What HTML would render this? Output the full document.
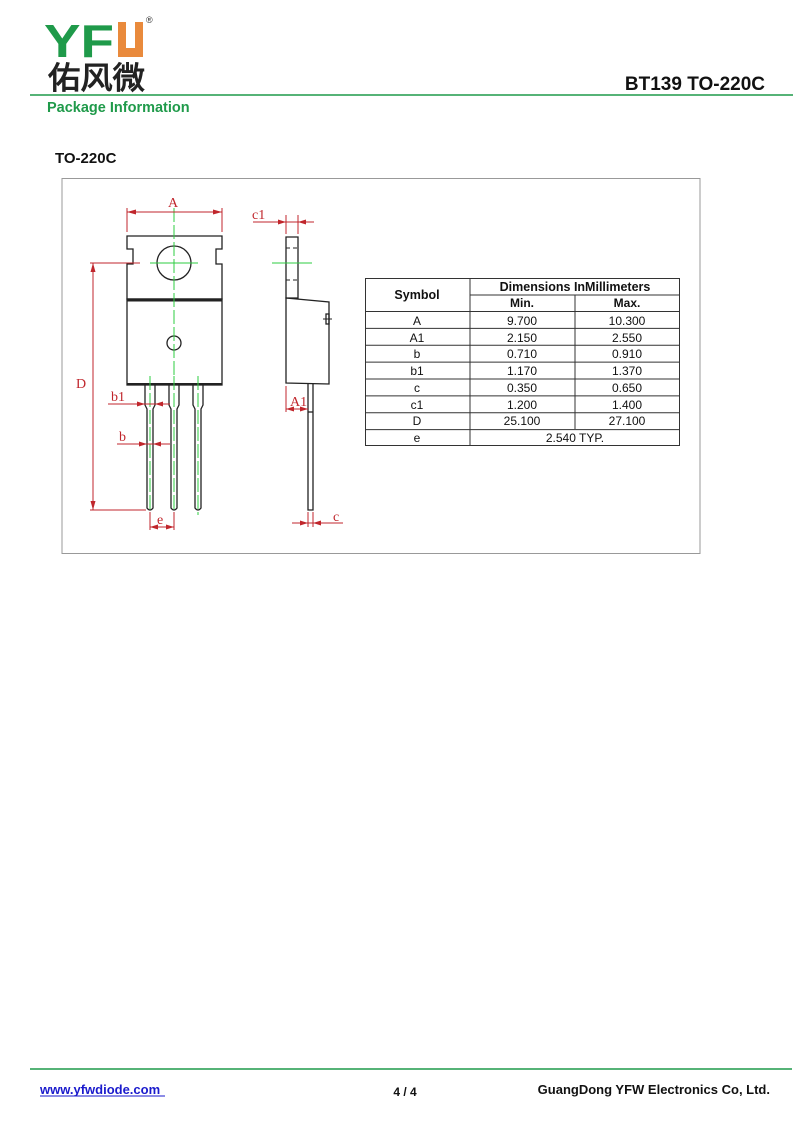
<!DOCTYPE html>
<html><head><meta charset="utf-8"><style>
html,body{margin:0;padding:0;background:#fff;width:800px;height:1130px;overflow:hidden}
svg{display:block}
text{font-family:"Liberation Sans",Arial,sans-serif}
.s{font-family:"Liberation Serif",serif;fill:#c0262c;font-size:14px}
</style></head><body>
<svg width="800" height="1130" viewBox="0 0 800 1130" xmlns="http://www.w3.org/2000/svg">
<!-- header -->
<text x="44" y="57" font-size="46" font-weight="bold" fill="#1f9a4a" textLength="70" lengthAdjust="spacingAndGlyphs">YF</text>
<path d="M118 22 h8 v26 h9 v-26 h8 v35 h-25 z" fill="#e98a3c"/>
<text x="146" y="23" font-size="9" fill="#333">®</text>
<text x="48" y="89" font-size="31" font-weight="bold" fill="#222" font-family="'Noto Sans CJK SC',sans-serif" textLength="97" lengthAdjust="spacingAndGlyphs">佑风微</text>
<line x1="30" y1="95" x2="793" y2="95" stroke="#1f9a4a" stroke-width="1.5"/>
<text x="47" y="112" font-size="14.5" font-weight="bold" fill="#1f9a4a">Package Information</text>
<text x="765" y="90" font-size="19" font-weight="bold" fill="#111" text-anchor="end">BT139 TO-220C</text>
<text x="55" y="163" font-size="15" font-weight="bold" fill="#111">TO-220C</text>
<rect x="62" y="178.5" width="638" height="375" fill="none" stroke="#999" stroke-width="1"/>

<!-- front view -->
<g stroke="#222" stroke-width="1.3" fill="none">
<path d="M127 236 H222 V249 H216 V264 H222 V299 H127 V264 H133 V249 H127 Z"/>
<circle cx="174" cy="263" r="17"/>
<rect x="127" y="299" width="95" height="86"/>
<line x1="127" y1="300.5" x2="222" y2="300.5" stroke-width="2"/>
<line x1="127" y1="384" x2="222" y2="384" stroke-width="2"/>
<circle cx="174" cy="343" r="7"/>
<path d="M145 385 V405 L147 409 V508 Q150 512 153 508 V409 L155 405 V385"/>
<path d="M169 385 V405 L171 409 V508 Q174 512 177 508 V409 L179 405 V385"/>
<path d="M193 385 V405 L195 409 V508 Q198 512 201 508 V409 L203 405 V385"/>
</g>
<g stroke="#2ecc40" stroke-width="1" stroke-dasharray="14 3">
<line x1="174" y1="208" x2="174" y2="378"/>
<line x1="150" y1="376" x2="150" y2="515"/>
<line x1="174" y1="376" x2="174" y2="515"/>
<line x1="198" y1="376" x2="198" y2="515"/>
</g>
<line x1="150" y1="263" x2="198" y2="263" stroke="#2ecc40" stroke-width="1"/>
<!-- dims front -->
<g stroke="#c0262c" stroke-width="1" fill="#c0262c">
<line x1="127" y1="208" x2="127" y2="232"/><line x1="222" y1="208" x2="222" y2="232"/>
<line x1="127" y1="212" x2="222" y2="212"/>
<line x1="90" y1="263" x2="140" y2="263"/>
<line x1="90" y1="510" x2="146" y2="510"/>
<line x1="93" y1="263" x2="93" y2="510"/>
<line x1="108" y1="404" x2="170" y2="404"/>
<line x1="117" y1="444" x2="170" y2="444"/>
<line x1="150" y1="512" x2="150" y2="530"/><line x1="174" y1="512" x2="174" y2="530"/>
<line x1="150" y1="527" x2="174" y2="527"/>
</g>
<g fill="#c0262c">
<path d="M127 212 l9 -2.5 v5z"/><path d="M222 212 l-9 -2.5 v5z"/>
<path d="M93 263 l-2.5 9 h5z"/><path d="M93 510 l-2.5 -9 h5z"/>
<path d="M145 404 l-8 -2.5 v5z"/><path d="M155 404 l8 -2.5 v5z"/>
<path d="M147 444 l-8 -2.5 v5z"/><path d="M153 444 l8 -2.5 v5z"/>
<path d="M150 527 l8 -2.5 v5z"/><path d="M174 527 l-8 -2.5 v5z"/>
</g>
<text class="s" x="168" y="207">A</text>
<text class="s" x="76" y="388">D</text>
<text class="s" x="111" y="401">b1</text>
<text class="s" x="119" y="441">b</text>
<text class="s" x="157" y="524">e</text>

<!-- side view -->
<g stroke="#222" stroke-width="1.3" fill="none">
<path d="M286 237 H298 V298 H286 Z"/>
<path d="M286 298 L329 302 V384 L286 383 Z"/>
<path d="M308 384 V510 H313 V384"/>
<line x1="308" y1="412" x2="313" y2="412"/>
<rect x="326" y="314" width="3" height="10"/>
<line x1="323" y1="319" x2="332" y2="319" stroke-width="1"/>
</g>
<g stroke="#222" stroke-width="1" stroke-dasharray="4 3">
<line x1="286" y1="248" x2="298" y2="248"/><line x1="286" y1="280" x2="298" y2="280"/>
</g>
<line x1="272" y1="263" x2="312" y2="263" stroke="#2ecc40" stroke-width="1"/>
<g stroke="#c0262c" stroke-width="1">
<line x1="286" y1="215" x2="286" y2="234"/><line x1="298" y1="215" x2="298" y2="234"/>
<line x1="253" y1="222" x2="314" y2="222"/>
<line x1="286" y1="386" x2="286" y2="412"/>
<line x1="286" y1="409" x2="308" y2="409"/>
<line x1="308" y1="512" x2="308" y2="527"/><line x1="313" y1="512" x2="313" y2="527"/>
<line x1="292" y1="523" x2="343" y2="523"/>
</g>
<g fill="#c0262c">
<path d="M286 222 l-8 -2.5 v5z"/><path d="M298 222 l8 -2.5 v5z"/>
<path d="M286 409 l8 -2.5 v5z"/><path d="M308 409 l-8 -2.5 v5z"/>
<path d="M308 523 l-8 -2.5 v5z"/><path d="M313 523 l8 -2.5 v5z"/>
</g>
<text class="s" x="252" y="219">c1</text>
<text class="s" x="290" y="406">A1</text>
<text class="s" x="333" y="521">c</text>

<!-- table -->
<g stroke="#333" stroke-width="1" fill="none">
<rect x="365.5" y="278.5" width="314" height="167"/>
<line x1="470" y1="278" x2="470" y2="446"/>
<line x1="575" y1="295" x2="575" y2="429"/>
<line x1="470" y1="295" x2="680" y2="295"/>
<line x1="365" y1="311.5" x2="680" y2="311.5"/>
<line x1="365" y1="328.4" x2="680" y2="328.4"/>
<line x1="365" y1="345.3" x2="680" y2="345.3"/>
<line x1="365" y1="362.1" x2="680" y2="362.1"/>
<line x1="365" y1="379" x2="680" y2="379"/>
<line x1="365" y1="395.9" x2="680" y2="395.9"/>
<line x1="365" y1="412.7" x2="680" y2="412.7"/>
<line x1="365" y1="429.6" x2="680" y2="429.6"/>
</g>
<g font-size="12" fill="#111" text-anchor="middle">
<text x="417" y="299" font-weight="bold" font-size="12.5">Symbol</text>
<text x="575" y="291" font-weight="bold" font-size="12.5">Dimensions InMillimeters</text>
<text x="522" y="307" font-weight="bold">Min.</text>
<text x="627" y="307" font-weight="bold">Max.</text>
<text x="417" y="325">A</text><text x="522" y="325">9.700</text><text x="627" y="325">10.300</text>
<text x="417" y="342">A1</text><text x="522" y="342">2.150</text><text x="627" y="342">2.550</text>
<text x="417" y="358">b</text><text x="522" y="358">0.710</text><text x="627" y="358">0.910</text>
<text x="417" y="375">b1</text><text x="522" y="375">1.170</text><text x="627" y="375">1.370</text>
<text x="417" y="392">c</text><text x="522" y="392">0.350</text><text x="627" y="392">0.650</text>
<text x="417" y="409">c1</text><text x="522" y="409">1.200</text><text x="627" y="409">1.400</text>
<text x="417" y="425">D</text><text x="522" y="425">25.100</text><text x="627" y="425">27.100</text>
<text x="417" y="442">e</text><text x="575" y="442">2.540 TYP.</text>
</g>

<!-- footer -->
<line x1="30" y1="1069" x2="792" y2="1069" stroke="#1f9a4a" stroke-width="1.5"/>
<text x="40" y="1094" font-size="13" font-weight="bold" fill="#1a1acc">www.yfwdiode.com</text>
<line x1="40" y1="1096" x2="165" y2="1096" stroke="#1a1acc" stroke-width="1"/>
<text x="405" y="1096" font-size="12" font-weight="bold" fill="#111" text-anchor="middle">4 / 4</text>
<text x="770" y="1094" font-size="13" font-weight="bold" fill="#111" text-anchor="end">GuangDong YFW Electronics Co, Ltd.</text>
</svg>
</body></html>
